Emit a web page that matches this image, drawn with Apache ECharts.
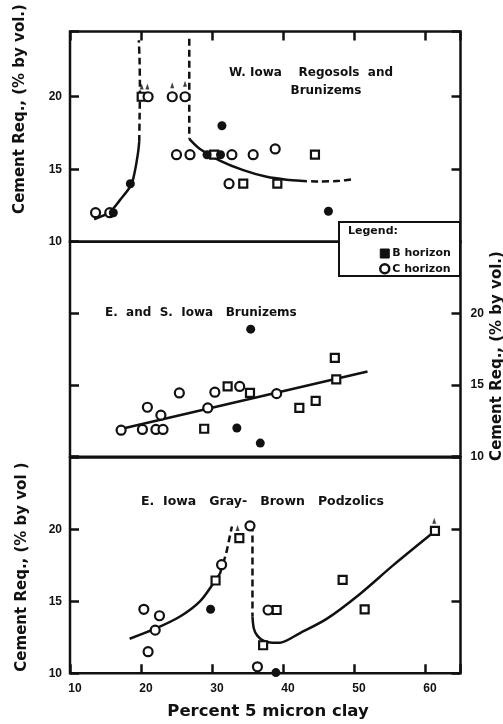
<!DOCTYPE html>
<html>
<head>
<meta charset="utf-8">
<script src="https://cdn.jsdelivr.net/npm/echarts@6/dist/echarts.min.js"></script>
<style>
html,body{margin:0;padding:0;background:#fff;}
#chart{width:503px;height:724px;}
</style>
</head>
<body>
<div id="chart"></div>
<script>
// ---------- data ----------
var xTicks = [10, 20, 30, 40, 50, 60];
var yTicks = [10, 15, 20];

// Panel 1: W. Iowa Regosols and Brunizems
var topB = [[20.1, 20.0], [30.3, 16.0], [34.4, 14.0], [39.2, 14.0], [44.5, 16.0]];
var topC = [[13.6, 12.0], [15.6, 12.0], [21.0, 20.0], [24.4, 20.0], [26.2, 20.0], [25.0, 16.0], [26.9, 16.0], [32.8, 16.0], [32.4, 14.0], [35.8, 16.0], [38.9, 16.4]];
var topFilled = [[16.1, 12.0], [18.5, 14.0], [29.3, 16.0], [31.2, 16.0], [31.4, 18.0], [46.4, 12.1]];
var topArrows = [[20.1, 20.7], [20.9, 20.7], [24.4, 20.8], [26.2, 20.9]];
var topCurveA = [[13.4, 11.55], [15.6, 12.05], [17.0, 12.85], [18.6, 13.9], [19.15, 14.9], [19.6, 16.2], [19.75, 16.9]];
var topCurveADash = [[19.75, 16.9], [19.8, 18.5], [19.85, 20.5], [19.8, 22.5], [19.7, 23.9]];
var topCurveBDash = [[26.8, 24.0], [26.8, 17.1]];
var topCurveB = [[26.8, 17.1], [28.3, 16.4], [31.1, 15.6], [34.4, 14.94], [37.7, 14.48], [41.0, 14.25], [42.4, 14.2]];
var topCurveBTail = [[42.4, 14.2], [45.0, 14.15], [48.0, 14.2], [49.7, 14.3]];

// Panel 2: E. and S. Iowa Brunizems
var midB = [[28.9, 11.95], [32.2, 14.9], [35.35, 14.45], [42.3, 13.4], [44.6, 13.9], [47.3, 16.9], [47.5, 15.4]];
var midC = [[17.2, 11.85], [20.2, 11.9], [22.1, 11.9], [23.1, 11.9], [20.9, 13.45], [22.8, 12.9], [25.4, 14.45], [29.4, 13.4], [30.4, 14.5], [33.9, 14.9], [39.1, 14.4]];
var midFilled = [[33.5, 12.0], [35.45, 18.9], [36.8, 10.95]];
var midLine = [[17.3, 11.95], [51.9, 15.95]];

// Panel 3: E. Iowa Gray-Brown Podzolics
var botB = [[30.5, 16.45], [33.85, 19.4], [39.1, 14.4], [37.2, 11.95], [48.4, 16.5], [51.5, 14.45], [61.4, 19.9]];
var botC = [[20.4, 14.45], [22.6, 14.0], [22.0, 13.0], [21.0, 11.5], [31.35, 17.55], [35.35, 20.25], [37.9, 14.4], [36.4, 10.45]];
var botFilled = [[29.8, 14.45], [39.0, 10.05]];
var botArrows = [[33.6, 20.1], [61.3, 20.6]];
var botCurveA = [[18.4, 12.4], [22.0, 13.1], [25.5, 13.95], [28.3, 15.0], [30.4, 16.4], [31.1, 16.9]];
var botCurveADash = [[31.1, 16.9], [32.0, 18.35], [32.5, 19.5], [32.8, 20.2]];
var botCurveBDash = [[35.7, 20.35], [35.7, 13.95]];
var botCurveB = [[35.7, 13.95], [35.9, 13.1], [36.4, 12.6], [37.3, 12.25], [38.5, 12.12], [39.6, 12.13], [42.4, 12.8], [46.2, 13.8], [50.8, 15.5], [55.5, 17.5], [61.2, 19.8]];

// ---------- chart ----------
var FONT = "'Liberation Sans', Arial, sans-serif";
var WIDE = "'DejaVu Sans', 'Liberation Sans', sans-serif";
var INK = '#111';
var chart = echarts.init(document.getElementById('chart'), null, {renderer: 'canvas'});

function grid(top, height) {
  return {left: 70, right: 42.5, top: top, height: height, show: true,
          borderColor: INK, borderWidth: 2.5, backgroundColor: 'transparent'};
}
function keep(list) {
  return function (v) { return list.indexOf(v) >= 0 ? String(v) : ''; };
}
function xAx(gi, pos, ticks, labels) {
  return {type: 'value', gridIndex: gi, position: pos, min: 10, max: 65, interval: 10,
          axisLine: {show: false}, splitLine: {show: false},
          axisTick: {show: ticks, inside: true, length: 9, lineStyle: {color: INK, width: 2.5}},
          axisLabel: {show: labels, formatter: keep(xTicks), color: INK, fontFamily: FONT,
                      fontWeight: 'bold', fontSize: 12, margin: 9, padding: [0, 0, 0, 10]}};
}
function yAx(gi, pos, max, labels) {
  return {type: 'value', gridIndex: gi, position: pos, min: 10, max: max, interval: 5,
          axisLine: {show: false}, splitLine: {show: false},
          axisTick: {show: true, inside: true, length: 9, lineStyle: {color: INK, width: 2.5}},
          axisLabel: {show: labels, formatter: keep(yTicks), color: INK, fontFamily: FONT,
                      fontWeight: 'bold', fontSize: 12, margin: pos === 'left' ? 8 : 10}};
}
function pts(name, data, xi, shape, filled, size) {
  return {type: 'scatter', name: name, xAxisIndex: xi, yAxisIndex: xi * 2, data: data,
          symbol: shape, symbolSize: size || 8, z: 3,
          itemStyle: {color: filled ? INK : '#fff', borderColor: INK, borderWidth: filled ? 0 : 2.2, opacity: 1}};
}
function arrows(data, xi) {
  return {type: 'scatter', name: 'off-scale', xAxisIndex: xi, yAxisIndex: xi * 2, data: data,
          symbol: 'triangle', symbolSize: [4, 6], z: 3, itemStyle: {color: INK}};
}
function curve(data, xi, dashed, smooth) {
  return {type: 'line', name: 'curve', xAxisIndex: xi, yAxisIndex: xi * 2, data: data,
          symbol: 'none', smooth: smooth, z: 2, silent: true,
          lineStyle: {color: INK, width: 2.5, type: dashed ? [7, 4] : 'solid'}};
}

var option = {
  animation: false,
  backgroundColor: '#fff',
  grid: [grid(31.5, 210.2), grid(241.7, 215), grid(457.5, 215.8)],
  xAxis: [xAx(0, 'top', true, false), xAx(1, 'bottom', false, false), xAx(2, 'bottom', true, true)],
  yAxis: [yAx(0, 'left', 24.5, true), yAx(0, 'right', 24.5, false),
          yAx(1, 'left', 25, false), yAx(1, 'right', 25, true),
          yAx(2, 'left', 25, true), yAx(2, 'right', 25, false)],
  legend: {show: true, orient: 'vertical', left: 374, top: 243, itemWidth: 9, itemHeight: 9, itemGap: 4,
           z: 6, selectedMode: false,
           data: [{name: 'B horizon', icon: 'rect', itemStyle: {color: INK, borderColor: INK, borderWidth: 1}},
                  {name: 'C horizon', icon: 'circle', itemStyle: {color: '#fff', borderColor: INK, borderWidth: 2.5}}],
           textStyle: {color: INK, fontFamily: WIDE, fontWeight: 'bold', fontSize: 11, padding: [0, 0, 0, -2]}},
  series: [
    curve(topCurveA, 0, false, 0.3), curve(topCurveADash, 0, true, 0.2),
    curve(topCurveBDash, 0, true, false), curve(topCurveB, 0, false, 0.3), curve(topCurveBTail, 0, true, 0.2),
    pts('B horizon', topB, 0, 'rect'), pts('C horizon', topC, 0, 'circle', false, 9),
    pts('filled', topFilled, 0, 'circle', true, 9), arrows(topArrows, 0),

    curve(midLine, 1, false, false),
    pts('B horizon', midB, 1, 'rect'), pts('C horizon', midC, 1, 'circle', false, 9),
    pts('filled', midFilled, 1, 'circle', true, 9),

    curve(botCurveA, 2, false, 0.3), curve(botCurveADash, 2, true, 0.2),
    curve(botCurveBDash, 2, true, false), curve(botCurveB, 2, false, 0.3),
    pts('B horizon', botB, 2, 'rect'), pts('C horizon', botC, 2, 'circle', false, 9),
    pts('filled', botFilled, 2, 'circle', true, 9), arrows(botArrows, 2)
  ],
  graphic: [
    {type: 'rect', shape: {x: 339, y: 222, width: 121, height: 54}, z: 5,
     style: {fill: '#fff', stroke: INK, lineWidth: 2}},
    {type: 'text', x: 348, y: 226, z: 7, style: {text: 'Legend:', fill: INK, font: 'bold 11px ' + WIDE}},
    {type: 'text', x: 311, y: 73, z: 7, style: {text: 'W. Iowa    Regosols  and', fill: INK, font: 'bold 12px ' + WIDE, align: 'center', verticalAlign: 'middle'}},
    {type: 'text', x: 326, y: 91, z: 7, style: {text: 'Brunizems', fill: INK, font: 'bold 12px ' + WIDE, align: 'center', verticalAlign: 'middle'}},
    {type: 'text', x: 105, y: 313, z: 7, style: {text: 'E.  and  S.  Iowa   Brunizems', fill: INK, font: 'bold 12px ' + WIDE, align: 'left', verticalAlign: 'middle'}},
    {type: 'text', x: 141, y: 502, z: 7, style: {text: 'E.  Iowa   Gray-   Brown   Podzolics', fill: INK, font: 'bold 12.5px ' + WIDE, align: 'left', verticalAlign: 'middle'}},
    {type: 'text', x: 20, y: 109, rotation: Math.PI / 2, z: 7, style: {text: 'Cement Req., (% by vol.)', fill: INK, font: 'bold 15px ' + WIDE, align: 'center', verticalAlign: 'middle'}},
    {type: 'text', x: 22, y: 567, rotation: Math.PI / 2, z: 7, style: {text: 'Cement Req., (% by vol )', fill: INK, font: 'bold 15px ' + WIDE, align: 'center', verticalAlign: 'middle'}},
    {type: 'text', x: 497, y: 356, rotation: Math.PI / 2, z: 7, style: {text: 'Cement Req., (% by vol.)', fill: INK, font: 'bold 15px ' + WIDE, align: 'center', verticalAlign: 'middle'}},
    {type: 'text', x: 268, y: 712, z: 7, style: {text: 'Percent 5 micron clay', fill: INK, font: 'bold 16.5px ' + WIDE, align: 'center', verticalAlign: 'middle'}}
  ]
};
chart.setOption(option);
</script>
</body>
</html>
